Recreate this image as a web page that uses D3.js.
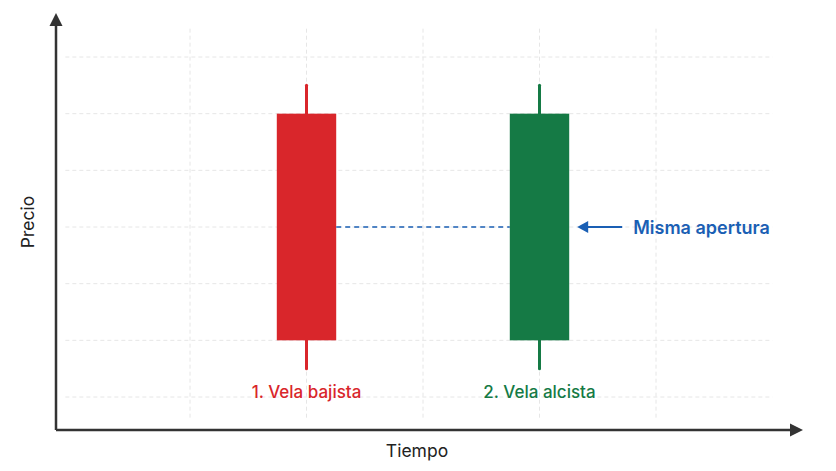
<!DOCTYPE html>
<html>
<head>
<meta charset="utf-8">
<script src="https://cdn.jsdelivr.net/npm/d3@7"></script>
<style>
  html, body { margin: 0; padding: 0; background: #fff; }
  svg { display: block; font-family: Inter, Roboto, "Noto Sans", sans-serif; }
  .grid-lines line { stroke: #e6e6e6; stroke-width: 1; stroke-dasharray: 4 3; }
  .axis-line { stroke: #333; stroke-width: 2.5; fill: none; }
  .axis-title { font-size: 17.5px; fill: #222; text-anchor: middle; }
  .candle-label { font-size: 17px; font-weight: 500; text-anchor: middle; }
  .note { font-size: 18px; font-weight: 600; fill: #1a5fb4; }
</style>
</head>
<body>
<script>

// data ////////////////////////////////////

const candleNames = ["1. Vela bajista", "2. Vela alcista"];
const candleTime = [2, 4];
const candleOpen = [6, 2];
const candleClose = [2, 6];
const candleHigh = [6.5, 6.5];
const candleLow = [1.5, 1.5];
const candleColors = ["#d9262b", "#157a45"];

const priceGrid = [1, 2, 3, 4, 5, 6, 7];
const timeGrid = [1, 2, 3, 4, 5];

const sameOpen = 4;
const noteText = "Misma apertura";

// layout //////////////////////////////////

const dim = { width: 836, height: 471 };
const origin = { x: 56, y: 430 };

const x = d3.scaleLinear()
    .domain([1, 5])
    .range([190, 656]);

const y = d3.scaleLinear()
    .domain([1, 7])
    .range([397, 57]);

const svg = d3.select("body").append("svg")
    .attr("width", dim.width)
    .attr("height", dim.height)
    .attr("viewBox", [0, 0, dim.width, dim.height]);

// grid

const grid = svg.append("g").attr("class", "grid-lines");

grid.selectAll("line.h")
    .data(priceGrid)
    .join("line")
    .attr("class", "h")
    .attr("x1", x(-0.07)).attr("x2", x(6))
    .attr("y1", d => y(d)).attr("y2", d => y(d));

grid.selectAll("line.v")
    .data(timeGrid)
    .join("line")
    .attr("class", "v")
    .attr("x1", d => x(d)).attr("x2", d => x(d))
    .attr("y1", y(7.5)).attr("y2", y(0.6));

// axes with arrows

const axes = svg.append("g");
axes.append("path")
    .attr("class", "axis-line")
    .attr("d", `M${ origin.x },${ origin.y } V22 M${ origin.x },${ origin.y } H794`);

axes.append("path")
    .attr("fill", "#333")
    .attr("d", `M${ origin.x },13 L${ origin.x + 6.5 },26 L${ origin.x - 6.5 },26 Z`);

axes.append("path")
    .attr("fill", "#333")
    .attr("d", `M803,${ origin.y } L790,${ origin.y - 6.5 } L790,${ origin.y + 6.5 } Z`);

svg.append("text")
    .attr("class", "axis-title")
    .attr("x", 417)
    .attr("y", 457)
    .text("Tiempo");

svg.append("text")
    .attr("class", "axis-title")
    .attr("transform", `translate(34, 222) rotate(-90)`)
    .text("Precio");

// candles

const step = x(2) - x(1);
const bodyW = step * 0.51;

const candles = svg.append("g")
    .selectAll("g")
    .data(candleNames.map((name, i) => ({
        name,
        t: candleTime[i],
        open: candleOpen[i],
        close: candleClose[i],
        high: candleHigh[i],
        low: candleLow[i],
        color: candleColors[i]
    })))
    .join("g");

candles.append("line")
    .attr("x1", d => x(d.t)).attr("x2", d => x(d.t))
    .attr("y1", d => y(d.high)).attr("y2", d => y(d.low))
    .attr("stroke", d => d.color)
    .attr("stroke-width", 3)
    .attr("stroke-linecap", "round");

candles.append("rect")
    .attr("x", d => x(d.t) - bodyW / 2)
    .attr("y", d => y(Math.max(d.open, d.close)))
    .attr("width", bodyW)
    .attr("height", d => Math.abs(y(d.open) - y(d.close)))
    .attr("fill", d => d.color);

candles.append("text")
    .attr("class", "candle-label")
    .attr("x", d => x(d.t))
    .attr("y", 398)
    .attr("fill", d => d.color)
    .text(d => d.name);

// same-open annotation

svg.append("line")
    .attr("x1", x(candleTime[0]) + bodyW / 2)
    .attr("x2", x(candleTime[1]) - bodyW / 2)
    .attr("y1", y(sameOpen)).attr("y2", y(sameOpen))
    .attr("stroke", "#1a5fb4")
    .attr("stroke-width", 1.5)
    .attr("stroke-dasharray", "5 4");

const noteX = x(candleTime[1]) + bodyW / 2;

svg.append("line")
    .attr("x1", noteX + 14).attr("x2", noteX + 53)
    .attr("y1", y(sameOpen)).attr("y2", y(sameOpen))
    .attr("stroke", "#1a5fb4")
    .attr("stroke-width", 2);

svg.append("path")
    .attr("fill", "#1a5fb4")
    .attr("d", `M${ noteX + 8 },${ y(sameOpen) } l11,-6 v12 Z`);

svg.append("text")
    .attr("class", "note")
    .attr("x", noteX + 64)
    .attr("y", y(sameOpen) + 6.5)
    .text(noteText);

</script>
</body>
</html>
